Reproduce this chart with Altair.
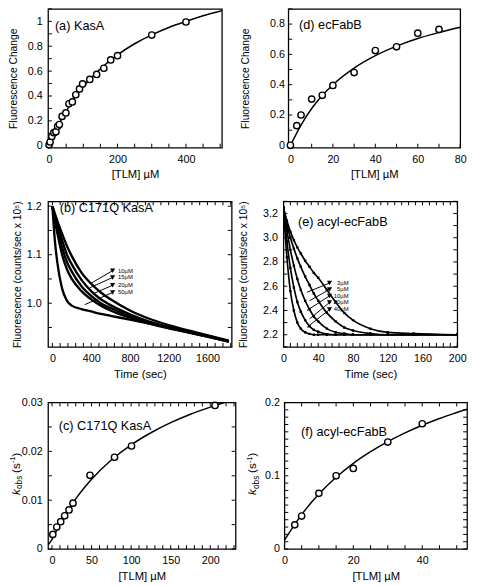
import altair as alt
import pandas as pd

FONT = "Liberation Sans"
LBL = 11
TTL = 10.5
XTTL = 11.5
PAN = 13
TICK = 4

# ---------------- (a) KasA ----------------
a_x = [0, 3, 8, 14, 20, 25, 30, 38, 49, 58, 68, 78, 89, 98, 119, 139, 160, 180, 200, 300, 400]
a_y = [0.008, 0.03, 0.075, 0.105, 0.113, 0.156, 0.17, 0.236, 0.264, 0.337, 0.352, 0.41, 0.457,
       0.497, 0.533, 0.573, 0.623, 0.69, 0.724, 0.89, 0.995]
a_fit_x = [0, 10, 25, 50, 75, 100, 150, 200, 250, 300, 350, 400, 450, 505]
a_fit_y = [0, 0.065, 0.153, 0.279, 0.385, 0.475, 0.619, 0.731, 0.82, 0.892, 0.951, 1.0, 1.045, 1.085]

# ---------------- (d) ecFabB ----------------
d_x = [0, 3, 5, 10, 15, 20, 30, 40, 50, 60, 70]
d_y = [0, 0.13, 0.20, 0.305, 0.33, 0.395, 0.48, 0.625, 0.65, 0.74, 0.765]
d_fit_x = [0, 5, 10, 15, 20, 30, 40, 50, 60, 70, 80]
d_fit_y = [0, 0.134, 0.243, 0.329, 0.400, 0.510, 0.592, 0.655, 0.705, 0.744, 0.779]

# ---------------- (b) C171Q KasA traces ----------------
b_t = [0, 25, 50, 100, 150, 200, 300, 400, 500, 600, 800, 1000, 1200, 1400, 1600, 1820]
b_traces = {
    "50": [1.20, 1.13, 1.085, 1.03, 1.005, 0.995, 0.988, 0.983, 0.978, 0.974, 0.966, 0.958, 0.950, 0.942, 0.933, 0.922],
    "25": [1.20, 1.17, 1.145, 1.10, 1.07, 1.05, 1.025, 1.008, 0.995, 0.985, 0.97, 0.958, 0.948, 0.94, 0.931, 0.921],
    "20": [1.20, 1.175, 1.155, 1.115, 1.085, 1.065, 1.035, 1.015, 1.0, 0.99, 0.973, 0.96, 0.949, 0.94, 0.931, 0.921],
    "15": [1.20, 1.18, 1.162, 1.13, 1.10, 1.08, 1.048, 1.025, 1.008, 0.996, 0.977, 0.962, 0.951, 0.941, 0.932, 0.922],
    "10": [1.20, 1.185, 1.17, 1.143, 1.118, 1.097, 1.063, 1.04, 1.022, 1.008, 0.985, 0.968, 0.955, 0.944, 0.934, 0.923],
}
b_arrow_t0 = [398, 389, 415, 334]
b_arrow_y0 = [1.041, 1.032, 1.019, 0.997]
b_arrow_t1 = [621, 621, 621, 621]
b_arrow_y1 = [1.067, 1.053, 1.037, 1.022]
b_labels = ["10µM", "15µM", "20µM", "50µM"]
b_label_t = [677, 677, 677, 677]

# ---------------- (e) acyl-ecFabB traces ----------------
e_t = [0, 4, 8, 12, 16, 20, 25, 30, 35, 40, 50, 60, 70, 80, 100, 120, 150, 200]
e_traces = {
    "3": [3.25, 3.14, 3.05, 2.98, 2.92, 2.87, 2.81, 2.76, 2.71, 2.67, 2.57, 2.47, 2.38, 2.32, 2.25, 2.22, 2.21, 2.20],
    "5": [3.25, 3.11, 3.00, 2.91, 2.83, 2.76, 2.68, 2.61, 2.54, 2.48, 2.38, 2.31, 2.26, 2.235, 2.21, 2.20, 2.20, 2.20],
    "10": [3.25, 3.06, 2.90, 2.77, 2.66, 2.57, 2.48, 2.41, 2.35, 2.31, 2.25, 2.22, 2.21, 2.20, 2.20, 2.20, 2.20, 2.20],
    "20": [3.25, 2.97, 2.75, 2.59, 2.47, 2.39, 2.32, 2.27, 2.24, 2.225, 2.205, 2.20, 2.20, 2.20, 2.20, 2.20, 2.20, 2.20],
    "40": [3.25, 2.84, 2.56, 2.40, 2.30, 2.25, 2.22, 2.207, 2.20, 2.20, 2.20, 2.20, 2.20, 2.20, 2.20, 2.20, 2.20, 2.20],
}
e_arrow_t0 = [27, 30, 27, 30, 27]
e_arrow_y0 = [2.55, 2.48, 2.40, 2.33, 2.26]
e_arrow_t1 = [53, 53, 53, 53, 53]
e_arrow_y1 = [2.626, 2.573, 2.52, 2.466, 2.408]
e_labels = ["3µM", "5µM", "10µM", "20µM", "40µM"]
e_label_t = [75, 75, 75, 75, 75]

# ---------------- (c) C171Q KasA kobs ----------------
c_x = [1, 6, 11, 16, 21.5, 26.5, 48, 79, 100.5, 206]
c_y = [0.003, 0.0045, 0.0056, 0.0068, 0.008, 0.0094, 0.0151, 0.0188, 0.0211, 0.0294]
c_fit_x = [-5, 0, 10, 20, 30, 40, 50, 75, 100, 125, 150, 175, 200, 232]
c_fit_y = [0.0008, 0.002, 0.00514, 0.00787, 0.01027, 0.01239, 0.01428, 0.01822, 0.02132,
           0.02381, 0.02587, 0.0276, 0.02907, 0.0307]

# ---------------- (f) acyl-ecFabB kobs ----------------
f_x = [3, 5, 10, 15, 20, 30, 40]
f_y = [0.033, 0.045, 0.076, 0.100, 0.110, 0.146, 0.171]
f_fit_x = [0, 5, 10, 15, 20, 25, 30, 35, 40, 45, 50, 53]
f_fit_y = [0.012, 0.047, 0.075, 0.0979, 0.117, 0.1329, 0.1467, 0.1586, 0.169, 0.1782, 0.1863, 0.191]


def sc(dom):
    return alt.Scale(domain=dom, nice=False, zero=False)


def xaxis(values, title, fmt="d", pad=6, tpad=5):
    return alt.Axis(values=values, format=fmt, title=title, ticks=False, domain=False, grid=False,
                    labelFont=FONT, labelFontSize=LBL, labelColor="black", labelPadding=pad,
                    labelFlush=False, titleFont=FONT, titleFontSize=XTTL, titleFontWeight="normal",
                    titleColor="black", titlePadding=tpad)


def yaxis(values, title, fmt="~g", pad=6, tpad=10):
    kw = dict(values=values, format=fmt, ticks=False, domain=False, grid=False,
              labelFont=FONT, labelFontSize=LBL, labelColor="black", labelPadding=pad,
              labelFlush=False)
    if title is None:
        kw["title"] = None
    else:
        kw.update(title=title, titleFont=FONT, titleFontSize=TTL, titleFontWeight="normal",
                  titleColor="black", titlePadding=tpad)
    return alt.Axis(**kw)


def tick_layers(xt, yt, xs, ys, xa, ya, W, H, sides):
    out = []
    dx = pd.DataFrame({"v": xt})
    dy = pd.DataFrame({"v": yt})
    st = dict(color="black", strokeWidth=1)
    if "b" in sides:
        out.append(alt.Chart(dx).mark_rule(**st).encode(
            x=alt.X("v:Q", scale=xs, axis=xa), y=alt.value(H), y2=alt.value(H - TICK)))
    if "t" in sides:
        out.append(alt.Chart(dx).mark_rule(**st).encode(
            x=alt.X("v:Q", scale=xs, axis=xa), y=alt.value(0), y2=alt.value(TICK)))
    if "l" in sides:
        out.append(alt.Chart(dy).mark_rule(**st).encode(
            y=alt.Y("v:Q", scale=ys, axis=ya), x=alt.value(0), x2=alt.value(TICK)))
    if "r" in sides:
        out.append(alt.Chart(dy).mark_rule(**st).encode(
            y=alt.Y("v:Q", scale=ys, axis=ya), x=alt.value(W), x2=alt.value(W - TICK)))
    return out


def panel_label(txt, px, py):
    return alt.Chart(pd.DataFrame({"t": [txt]})).mark_text(
        align="left", baseline="middle", font=FONT, fontSize=PAN, color="black").encode(
        x=alt.value(px), y=alt.value(py), text="t:N")


def kobs_title(xb, ymid):
    # composed rotated title: k_obs (s^-1)
    pieces = [("k", 12, "italic", 0, 6.0),
              ("obs", 8.5, "normal", 2.5, 16.5),
              ("(s", 12, "normal", 0, 10.2),
              ("-1", 7.5, "normal", -4.5, 6.4),
              (")", 12, "normal", 0, 4.0)]
    total = sum(p[4] for p in pieces)
    y = ymid + total / 2
    out = []
    for txt, fs, style, dx, w in pieces:
        out.append(alt.Chart(pd.DataFrame({"t": [txt]})).mark_text(
            align="left", baseline="alphabetic", angle=270, font=FONT, fontSize=fs,
            fontStyle=style, color="black").encode(
            x=alt.value(xb + dx), y=alt.value(y), text="t:N"))
        y -= w
    return out


def binding_panel(px, py, fx, fy, xdom, ydom, xlab, ylab, xt, yt, W, H, sides,
                  xtitle, ytitle, yfmt, label, lpos, ypad, ytpad, kobs=None):
    xs, ys = sc(xdom), sc(ydom)
    xa = xaxis(xlab, xtitle)
    ya = yaxis(ylab, ytitle, yfmt, ypad, ytpad)
    fit = alt.Chart(pd.DataFrame({"x": fx, "y": fy})).mark_line(
        color="black", strokeWidth=1.5, interpolate="monotone", clip=True).encode(
        x=alt.X("x:Q", scale=xs, axis=xa), y=alt.Y("y:Q", scale=ys, axis=ya))
    pts = alt.Chart(pd.DataFrame({"x": px, "y": py})).mark_point(
        shape="circle", filled=True, fill="white", stroke="black", strokeWidth=1.4,
        size=42, opacity=1).encode(
        x=alt.X("x:Q", scale=xs, axis=xa), y=alt.Y("y:Q", scale=ys, axis=ya))
    layers = [fit] + tick_layers(xt, yt, xs, ys, xa, ya, W, H, sides) + [pts, panel_label(label, *lpos)]
    if kobs is not None:
        layers += kobs_title(kobs, H / 2 - 2)
    return alt.layer(*layers).properties(width=W, height=H)


def long_df(t, traces):
    rows = []
    for k, vals in traces.items():
        for ti, vi in zip(t, vals):
            rows.append({"t": ti, "v": vi, "s": k})
    return pd.DataFrame(rows)


def trace_panel(t, traces, xdom, ydom, xlab, ylab, xt, yt, W, H, ytitle, label, lpos,
                at0, ay0, at1, ay1, labs, labt, lab_align, ypad, ytpad, lw, dots):
    xs, ys = sc(xdom), sc(ydom)
    xa = xaxis(xlab, "Time (sec)")
    ya = yaxis(ylab, ytitle, ".1f", ypad, ytpad)
    df = long_df(t, traces)
    line = alt.Chart(df).mark_line(color="black", strokeWidth=lw, interpolate="monotone",
                                   clip=True).encode(
        x=alt.X("t:Q", scale=xs, axis=xa), y=alt.Y("v:Q", scale=ys, axis=ya), detail="s:N")
    layers = [line] + tick_layers(xt, yt, xs, ys, xa, ya, W, H, "btlr")
    if dots:
        layers.append(alt.Chart(df).mark_point(shape="square", filled=True, color="black",
                                               size=6, opacity=1, clip=True).encode(
            x=alt.X("t:Q", scale=xs, axis=xa), y=alt.Y("v:Q", scale=ys, axis=ya)))
    adf = pd.DataFrame({"t0": at0, "y0": ay0, "t1": at1, "y1": ay1, "lab": labs, "lt": labt})
    layers.append(alt.Chart(adf).mark_rule(color="black", strokeWidth=1).encode(
        x=alt.X("t0:Q", scale=xs, axis=xa), y=alt.Y("y0:Q", scale=ys, axis=ya),
        x2="t1:Q", y2="y1:Q"))
    layers.append(alt.Chart(adf).mark_point(shape="triangle-down", filled=True, color="black",
                                            size=28, opacity=1).encode(
        x=alt.X("t1:Q", scale=xs, axis=xa), y=alt.Y("y1:Q", scale=ys, axis=ya)))
    layers.append(alt.Chart(adf).mark_text(align=lab_align, baseline="middle", font=FONT,
                                           fontSize=6, color="black").encode(
        x=alt.X("lt:Q", scale=xs, axis=xa), y=alt.Y("y1:Q", scale=ys, axis=ya),
        text="lab:N"))
    layers.append(panel_label(label, *lpos))
    return alt.layer(*layers).properties(width=W, height=H)


def rng(a, b, s):
    out, v = [], a
    while v <= b + 1e-9:
        out.append(round(v, 6))
        v += s
    return out


H1, H2, H3 = 142, 149, 150

pa = binding_panel(a_x, a_y, a_fit_x, a_fit_y, [-3, 505], [-0.015, 1.1],
                   [0, 200, 400], [0, 0.2, 0.4, 0.6, 0.8, 1.0],
                   rng(0, 500, 50), rng(0, 1.1, 0.1), 178, H1, "bl",
                   "[TLM] µM", "Fluorescence Change", "~g", "(a) KasA", (7, 18), 6, 9)
pd_ = binding_panel(d_x, d_y, d_fit_x, d_fit_y, [-1, 80], [-0.015, 0.9],
                    [0, 20, 40, 60, 80], [0, 0.2, 0.4, 0.6, 0.8],
                    rng(0, 80, 10), rng(0, 0.9, 0.1), 176, H1, "bl",
                    "[TLM] µM", "Fluorescence Change", "~g", "(d) ecFabB", (11, 17), 4, 19)
pb = trace_panel(b_t, b_traces, [-45, 1850], [0.91, 1.21], [0, 400, 800, 1200, 1600],
                 [1.0, 1.1, 1.2], rng(0, 1840, 80), rng(0.95, 1.2, 0.05), 188, H2,
                 "Fluorescence (counts/sec x 10⁵)", "(b) C171Q KasA", (12, 7),
                 b_arrow_t0, b_arrow_y0, b_arrow_t1, b_arrow_y1, b_labels, b_label_t, "left",
                 7, 4, 2.4, False)
pe = trace_panel(e_t, e_traces, [0, 200], [2.1, 3.3], [0, 40, 80, 120, 160, 200],
                 [2.2, 2.4, 2.6, 2.8, 3.0, 3.2], rng(0, 200, 8), rng(2.1, 3.3, 0.1), 178, H2,
                 "Fluorescence (counts/sec x 10⁵)", "(e) acyl-ecFabB", (15, 21),
                 e_arrow_t0, e_arrow_y0, e_arrow_t1, e_arrow_y1, e_labels, e_label_t, "right",
                 6, 14, 1.7, True)
pc = binding_panel(c_x, c_y, c_fit_x, c_fit_y, [-5, 232], [0, 0.03],
                   [0, 50, 100, 150, 200], [0, 0.01, 0.02, 0.03],
                   rng(0, 230, 10), rng(0, 0.03, 0.005), 192, H3, "btlr",
                   "[TLM] µM", None, "~g", "(c) C171Q KasA", (11, 24), 6, 0, kobs=-29)
pf = binding_panel(f_x, f_y, f_fit_x, f_fit_y, [0, 53], [0, 0.2],
                   [0, 20, 40], [0, 0.1, 0.2],
                   rng(0, 50, 5), rng(0, 0.2, 0.01), 187, H3, "btlr",
                   "[TLM] µM", None, "~g", "(f) acyl-ecFabB", (17, 30), 5, 0, kobs=-29)

row1 = alt.hconcat(pa, pd_, spacing=68, bounds="flush")
row2 = alt.hconcat(pb, pe, spacing=53, bounds="flush")
row3 = alt.hconcat(pc, pf, spacing=50, bounds="flush")
top = alt.vconcat(row1, row2, spacing=18)
chart = alt.vconcat(top, row3, spacing=15).properties(
    padding={"left": 0, "right": 0, "top": -8, "bottom": 0}).configure(
    font=FONT).configure_view(stroke="black", strokeWidth=1.3)

chart.save("out.html", embed_options={"renderer": "svg", "actions": False})
